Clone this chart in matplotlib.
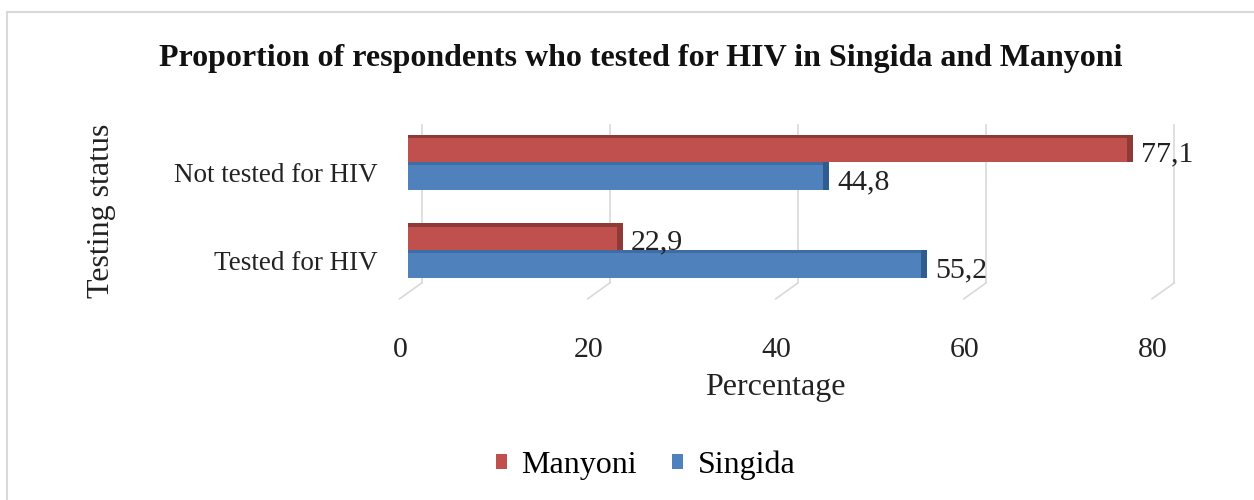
import matplotlib.pyplot as plt
from matplotlib.lines import Line2D
from matplotlib.transforms import ScaledTranslation

# Data
categories = ['Tested for HIV', 'Not tested for HIV']
manyoni = [22.9, 77.1]
singida = [55.2, 44.8]
series_names = ['Manyoni', 'Singida']
xticks = [0, 20, 40, 60, 80]

red = '#C0504D'
blue = '#4F81BD'
red_dark = '#8E3A37'
blue_dark = '#2F5D8F'
txt = '#222222'

plt.rcParams['font.family'] = ['Liberation Serif', 'DejaVu Serif']

fig = plt.figure(figsize=(12.54, 5.0), dpi=100)
ax = fig.add_axes([0.3254, 0.42, 0.600, 0.34])

# light border (top and left edges visible in the reference)
fig.add_artist(Line2D([7 / 1254, 1], [1 - 12 / 500] * 2, transform=fig.transFigure,
                      color='#D9D9D9', linewidth=1.5))
fig.add_artist(Line2D([7 / 1254] * 2, [0, 1 - 12 / 500], transform=fig.transFigure,
                      color='#D9D9D9', linewidth=1.5))

y = list(range(len(categories)))
h = 0.31
y_m = [v + h / 2 for v in y]
y_s = [v - h / 2 for v in y]

# back wall gridlines with slanted floor stubs (3D look)
for t in xticks:
    ax.plot([t + 1.45, t + 1.45], [-0.37, 1.42], color='#D9D9D9', linewidth=1.2,
            clip_on=False, zorder=0)
    ax.plot([t + 1.45, t - 0.9], [-0.37, -0.55], color='#D9D9D9',
            linewidth=1.2, clip_on=False, zorder=0)

ax.barh(y_m, manyoni, height=h, color=red, label=series_names[0], zorder=2)
ax.barh(y_s, singida, height=h, color=blue, label=series_names[1], zorder=2)
# darker end caps / top faces for a bit of depth
ax.barh(y_m, [0.7] * len(y), left=[v - 0.7 for v in manyoni], height=h,
        color=red_dark, zorder=3)
ax.barh(y_s, [0.7] * len(y), left=[v - 0.7 for v in singida], height=h,
        color=blue_dark, zorder=3)
ax.barh([v + h / 2 - 0.02 for v in y_m], manyoni, height=0.04, color=red_dark, zorder=3)
ax.barh([v + h / 2 - 0.015 for v in y_s], singida, height=0.03, color='#3E6DA3', zorder=2.5)

for yy, v in zip(y_m, manyoni):
    ax.text(v + 0.8, yy - 0.06, f'{v:.1f}'.replace('.', ','), va='center', ha='left',
            fontsize=21.5, color=txt, zorder=4)
for yy, v in zip(y_s, singida):
    ax.text(v + 0.8, yy - 0.07, f'{v:.1f}'.replace('.', ','), va='center', ha='left',
            fontsize=21.5, color=txt, zorder=4)

ax.set_xlim(0, 80)
ax.set_ylim(-0.45, 1.48)
ax.set_yticks(y)
ax.set_yticklabels(categories, fontsize=19.5, color=txt)
ax.set_xticks(xticks)
ax.set_xticklabels([str(t) for t in xticks], fontsize=21.5, color=txt)
ax.tick_params(axis='y', length=0, pad=22)
ax.tick_params(axis='x', length=0, pad=34)
for lab in ax.get_yticklabels():
    lab.set_transform(lab.get_transform() + ScaledTranslation(0, -0.10, fig.dpi_scale_trans))
for lab in ax.get_xticklabels():
    lab.set_transform(lab.get_transform() + ScaledTranslation(-0.08, 0, fig.dpi_scale_trans))
for s in ax.spines.values():
    s.set_visible(False)

ax.set_xlabel('Percentage', fontsize=23, color=txt)
ax.xaxis.set_label_coords(0.488, -0.49)
ax.set_ylabel('Testing status', fontsize=23, color=txt)
ax.yaxis.set_label_coords(-0.388, 0.465)

fig.text(0.511, 0.883, 'Proportion of respondents who tested for HIV in Singida and Manyoni',
         ha='center', va='center', fontsize=23, fontweight='bold', color='#111111')

handles, labels = ax.get_legend_handles_labels()
fig.legend(handles[:2], labels[:2], loc='center', bbox_to_anchor=(0.515, 0.07), ncol=2,
           frameon=False, fontsize=23, handlelength=0.35, handleheight=0.35,
           handletextpad=0.45, columnspacing=1.1)

fig.savefig('out.png', dpi=100)
